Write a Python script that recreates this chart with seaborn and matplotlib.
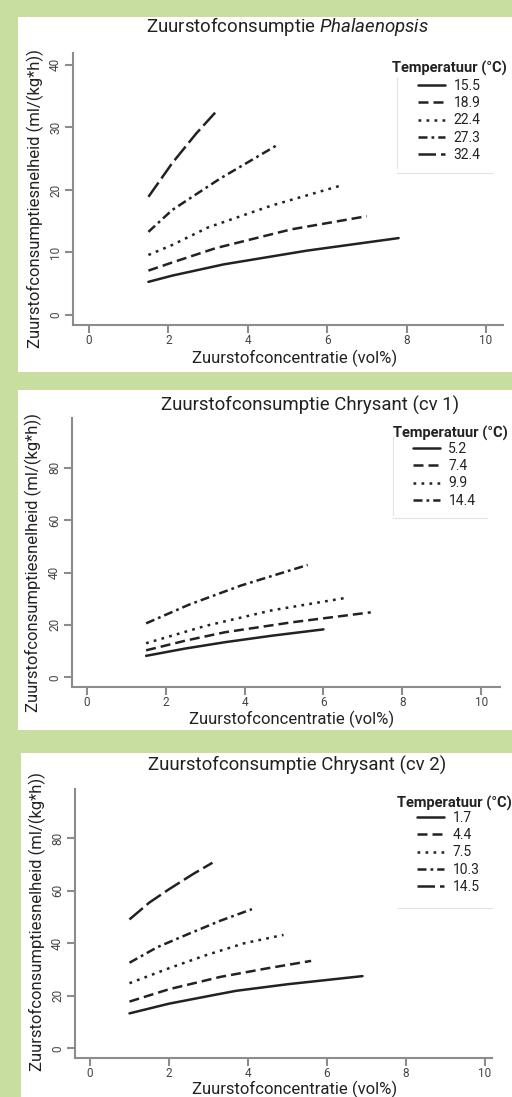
import numpy as np
import pandas as pd
import matplotlib
matplotlib.use("Agg")
import matplotlib.pyplot as plt
import seaborn as sns
from matplotlib.patches import Rectangle
from matplotlib.lines import Line2D

# ---- data ----
pha_temp = ["15.5", "18.9", "22.4", "27.3", "32.4"]
pha_x = [[1.5, 2.1, 3.4, 5.5, 7.8],
         [1.5, 2.1, 3.2, 5.1, 7.0],
         [1.5, 2.1, 3.0, 4.6, 6.4],
         [1.5, 2.1, 3.3, 4.4, 4.75],
         [1.5, 2.1, 2.7, 3.2]]
pha_y = [[5.3, 6.3, 8.1, 10.3, 12.3],
         [7.1, 8.4, 10.7, 13.7, 15.8],
         [9.6, 11.2, 14.0, 17.5, 20.8],
         [13.3, 16.8, 21.8, 25.9, 27.2],
         [18.9, 24.3, 29.0, 32.5]]

cv1_temp = ["5.2", "7.4", "9.9", "14.4"]
cv1_x = [[1.5, 2.5, 3.5, 4.7, 6.0],
         [1.5, 2.5, 3.5, 5.2, 7.2],
         [1.5, 2.5, 3.0, 4.7, 6.6],
         [1.5, 2.6, 3.9, 5.6]]
cv1_y = [[8.2, 11.0, 13.4, 15.9, 18.3],
         [10.3, 14.0, 17.2, 21.0, 24.8],
         [13.0, 17.4, 19.6, 25.6, 30.4],
         [20.6, 27.8, 35.0, 42.9]]

cv2_temp = ["1.7", "4.4", "7.5", "10.3", "14.5"]
cv2_x = [[1.0, 2.0, 3.0, 3.7, 5.0, 6.9],
         [1.0, 2.0, 3.3, 4.5, 5.6],
         [1.0, 2.0, 2.9, 3.9, 4.9],
         [1.0, 1.7, 2.45, 3.3, 4.1],
         [1.0, 1.5, 2.0, 2.6, 3.1]]
cv2_y = [[13.3, 17.0, 19.9, 21.9, 24.4, 27.5],
         [17.8, 22.5, 27.2, 30.5, 33.3],
         [24.8, 30.5, 35.3, 40.0, 43.2],
         [32.6, 38.5, 43.3, 48.6, 53.0],
         [49.1, 55.5, 60.6, 66.3, 70.7]]

pha_yticks = [0, 10, 20, 30, 40]
cv_yticks = [0, 20, 40, 60, 80]
xticks = [0, 2, 4, 6, 8, 10]

# ---- style ----
sns.set_style("ticks")
plt.rcParams["font.family"] = ["Roboto", "DejaVu Sans"]
plt.rcParams["mathtext.fontset"] = "custom"
plt.rcParams["mathtext.rm"] = "Roboto"
plt.rcParams["mathtext.it"] = "Roboto:italic"

W, H = 512, 1097
GREEN = "#c8dda0"
INK = "#222222"
AXC = "#8c8c8c"
LW = 1.8

dash_styles = ["", (4, 2), (1.1, 2.1), (3.6, 1.6, 1.1, 1.6), (7, 2)]


def fx(px):
    return px / W


def fy(py):
    return 1 - py / H


def long_df(temps, xs, ys):
    rows = []
    for t, xx, yy in zip(temps, xs, ys):
        for a, b in zip(xx, yy):
            rows.append((t, a, b))
    return pd.DataFrame(rows, columns=["temp", "x", "y"])


fig = plt.figure(figsize=(W / 100, H / 100), dpi=100)
fig.patch.set_facecolor(GREEN)

panels = [
    dict(temps=pha_temp, xs=pha_x, ys=pha_y, yticks=pha_yticks,
         box=(18, 17, 512, 372), ax=(73, 53, 503, 325),
         xlim=(-0.40, 10.43), ylim=(-1.6, 41.9),
         title="Zuurstofconsumptie $\\mathit{Phalaenopsis}$", title_xy=(287, 27),
         ylab_xy=(35, 199), xlab_xy=(295, 358),
         leg_title=(392, 68), leg_xy=(418, 79),
         frame=((397, 77, 397, 168), (397, 173, 493, 173))),
    dict(temps=cv1_temp, xs=cv1_x, ys=cv1_y, yticks=cv_yticks,
         box=(18, 390, 512, 730), ax=(72, 418, 500, 687),
         xlim=(-0.38, 10.48), ylim=(-3.7, 99),
         title="Zuurstofconsumptie Chrysant (cv 1)", title_xy=(310, 405),
         ylab_xy=(33, 563), xlab_xy=(292, 719),
         leg_title=(393, 433), leg_xy=(413, 442),
         frame=((393, 437, 393, 515), (393, 518, 487, 518))),
    dict(temps=cv2_temp, xs=cv2_x, ys=cv2_y, yticks=cv_yticks,
         box=(21, 753, 512, 1097), ax=(75, 789, 492, 1058),
         xlim=(-0.38, 10.18), ylim=(-3.7, 98.8),
         title="Zuurstofconsumptie Chrysant (cv 2)", title_xy=(297, 765),
         ylab_xy=(37, 922), xlab_xy=(295, 1089),
         leg_title=(397, 803), leg_xy=(417, 811),
         frame=((398, 908, 492, 908),)),
]

for p in panels:
    x0, y0, x1, y1 = p["box"]
    fig.patches.append(Rectangle((fx(x0), fy(y1)), fx(x1) - fx(x0), fy(y0) - fy(y1),
                                 transform=fig.transFigure, facecolor="white",
                                 edgecolor="none", zorder=-5))
    l, t, r, b = p["ax"]
    ax = fig.add_axes([fx(l), fy(b), fx(r) - fx(l), fy(t) - fy(b)])
    ax.set_facecolor("none")

    df = long_df(p["temps"], p["xs"], p["ys"])
    dashes = {t: dash_styles[i] for i, t in enumerate(p["temps"])}
    sns.lineplot(data=df, x="x", y="y", style="temp", style_order=p["temps"],
                 dashes=dashes, color=INK, lw=LW, legend=False, ax=ax,
                 estimator=None, sort=True)
    for ln in ax.lines:
        ln.set_dash_capstyle("butt")

    ax.set_xlim(*p["xlim"])
    ax.set_ylim(*p["ylim"])
    ax.set_xticks(xticks)
    ax.set_yticks(p["yticks"])
    ax.set_xlabel("")
    ax.set_ylabel("")
    for s in ["top", "right"]:
        ax.spines[s].set_visible(False)
    for s in ["left", "bottom"]:
        ax.spines[s].set_color(AXC)
        ax.spines[s].set_linewidth(1.5)
    ax.tick_params(axis="y", length=5.8, width=1.5, color=AXC,
                   labelsize=8.5, labelcolor="#444444", pad=2)
    ax.tick_params(axis="x", length=5.5, width=1.5, color=AXC,
                   labelsize=8.5, labelcolor="#444444", pad=1)
    for lab in ax.get_yticklabels():
        lab.set_rotation(90)
        lab.set_va("center")

    fig.text(fx(p["title_xy"][0]), fy(p["title_xy"][1]), p["title"],
             ha="center", va="center", fontsize=13.4, color=INK)
    fig.text(fx(p["ylab_xy"][0]), fy(p["ylab_xy"][1]),
             "Zuurstofconsumptiesnelheid (ml/(kg*h))", rotation=90,
             ha="center", va="center", fontsize=12.0, color=INK)
    fig.text(fx(p["xlab_xy"][0]), fy(p["xlab_xy"][1]),
             "Zuurstofconcentratie (vol%)", ha="center", va="center",
             fontsize=12.0, color=INK)

    # legend
    fig.text(fx(p["leg_title"][0]), fy(p["leg_title"][1]), "Temperatuur (°C)",
             ha="left", va="center", fontsize=10.5, fontweight="bold", color=INK)
    handles = []
    for i, t in enumerate(p["temps"]):
        d = dash_styles[i]
        if d == "":
            h = Line2D([], [], color=INK, lw=LW, ls="-")
        else:
            h = Line2D([], [], color=INK, lw=LW, dashes=d, dash_capstyle="butt")
        handles.append(h)
    ax.legend(handles, p["temps"], loc="upper left",
              bbox_to_anchor=(fx(p["leg_xy"][0]), fy(p["leg_xy"][1])),
              bbox_transform=fig.transFigure, frameon=False, borderpad=0,
              borderaxespad=0, handlelength=1.95, handletextpad=0.6,
              labelspacing=0.23, fontsize=10, labelcolor=INK)
    for (ax0, ay0, ax1, ay1) in p["frame"]:
        fig.add_artist(Line2D([fx(ax0), fx(ax1)], [fy(ay0), fy(ay1)],
                              transform=fig.transFigure, color="#e2e2e2", lw=0.8))

fig.savefig("out.png", dpi=100, facecolor=GREEN)
